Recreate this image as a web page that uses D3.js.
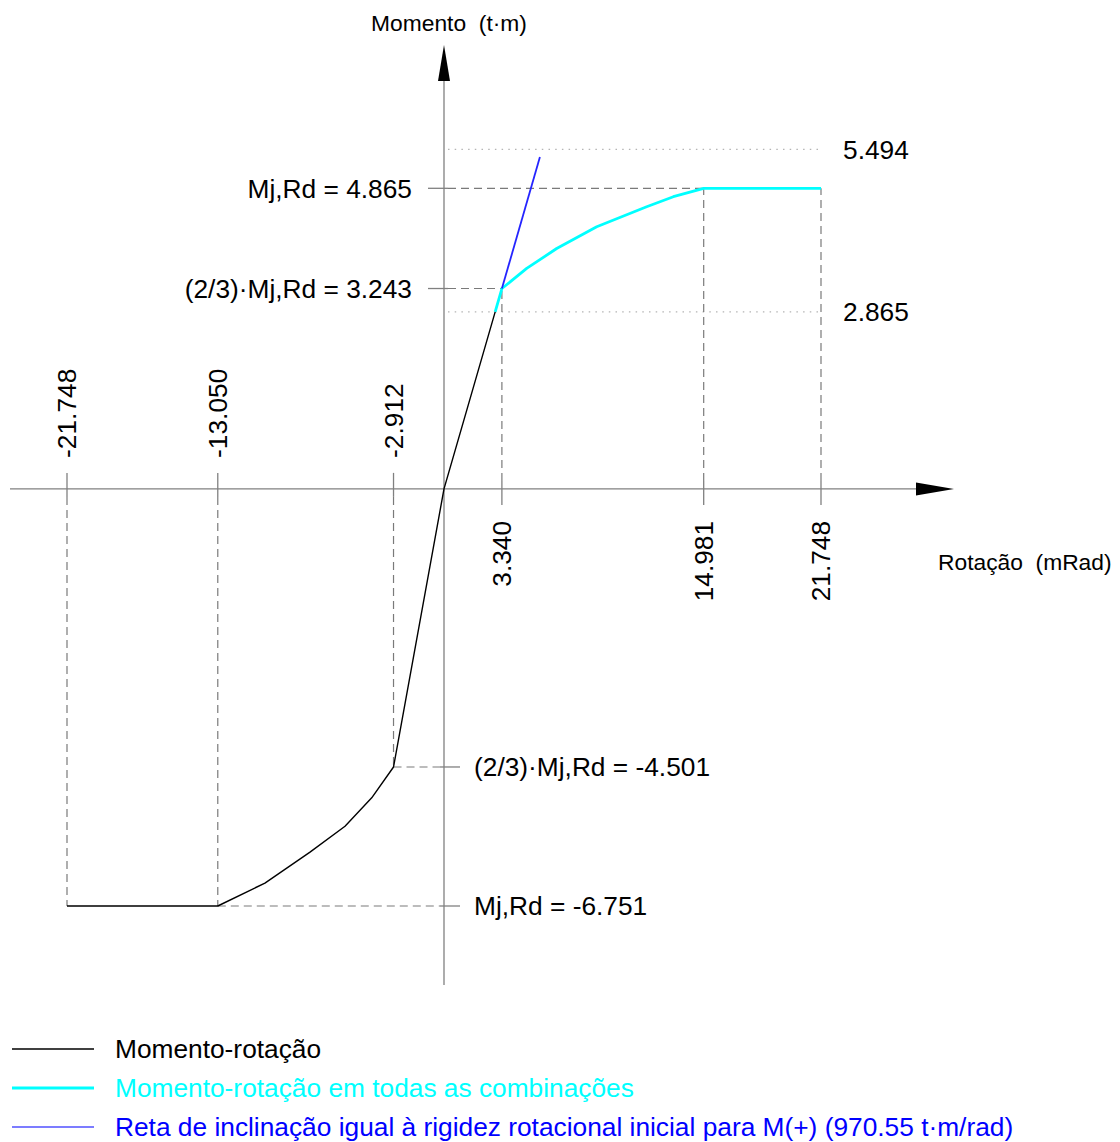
<!DOCTYPE html>
<html>
<head>
<meta charset="utf-8">
<script src="https://cdn.jsdelivr.net/npm/d3@7"></script>
<style>
  html, body { margin: 0; padding: 0; background: #fff; }
  svg { display: block; font-family: "Liberation Sans", Arial, sans-serif; }
</style>
</head>
<body>
<svg id="chart" width="1120" height="1142"></svg>
<script>
// Moment-rotation curve of the joint (rotation in mRad, moment in t·m)
const curveMain = [
  [-21.748, -6.751], [-13.050, -6.751], [-10.33, -6.38], [-7.73, -5.88],
  [-5.71, -5.46], [-4.17, -5.00], [-2.912, -4.501], [0, 0], [2.952, 2.865]
];
// Envelope for all load combinations
const curveAll = [
  [2.952, 2.865], [3.340, 3.243], [4.77, 3.568], [6.50, 3.89], [8.81, 4.243],
  [11.69, 4.567], [13.23, 4.729], [14.981, 4.865], [21.748, 4.865]
];
// Initial rotational stiffness for M(+), t·m/rad
const stiffness = 970.55;
const stiffLineRange = [3.340, 5.533];   // rotation range of the stiffness line (mRad)

// Marked rotations and the moment each one reaches on the curve
const xMarks = [-21.748, -13.050, -2.912, 3.340, 14.981, 21.748];
const xMarkMoments = [-6.751, -6.751, -4.501, 3.243, 4.865, 4.865];
const xMarkLabels = ["-21.748", "-13.050", "-2.912", "3.340", "14.981", "21.748"];

// Marked moments (dashed reference), with the rotation where each is reached
const yMarks = [4.865, 3.243, -4.501, -6.751];
const yMarkRotations = [21.748, 3.340, -2.912, -13.050];
const yMarkLabels = ["Mj,Rd = 4.865", "(2/3)·Mj,Rd = 3.243", "(2/3)·Mj,Rd = -4.501", "Mj,Rd = -6.751"];

// Additional dotted moment levels
const dotLevels = [5.494, 2.865];
const dotLabels = ["5.494", "2.865"];

const legendLabels = [
  "Momento-rotação",
  "Momento-rotação em todas as combinações",
  "Reta de inclinação igual à rigidez rotacional inicial para M(+) (970.55 t·m/rad)"
];
const legendColors = ["#000000", "#00ffff", "#2424ff"];

const svg = d3.select("#chart");
const x = d3.scaleLinear().domain([0, 21.748]).range([444, 821]);
const y = d3.scaleLinear().domain([-6.751, 4.865]).range([906, 188.3]);
const x0 = x(0), y0 = y(0);

const axisColor = "#808080";
const dashColor = "#7a7a7a";
const FS = 26.3;

// dotted levels
dotLevels.forEach((v, i) => {
  svg.append("line")
    .attr("x1", x0 + 4).attr("x2", x(21.748))
    .attr("y1", y(v)).attr("y2", y(v))
    .attr("stroke", "#b4b4b4").attr("stroke-width", 1.2)
    .attr("stroke-dasharray", "1.5,5.2");
  svg.append("text")
    .attr("x", 843).attr("y", y(v))
    .attr("dy", "0.35em")
    .attr("font-size", FS).attr("fill", "#000")
    .text(dotLabels[i]);
});

// vertical dashed references and ticks for marked rotations
xMarks.forEach((v, i) => {
  const px = x(v);
  const neg = v < 0;
  svg.append("line")
    .attr("x1", px).attr("x2", px)
    .attr("y1", neg ? y0 + 8 : y0 - 8)
    .attr("y2", y(xMarkMoments[i]))
    .attr("stroke", dashColor).attr("stroke-width", 1.2)
    .attr("stroke-dasharray", "8,5");
  svg.append("line")
    .attr("x1", px).attr("x2", px)
    .attr("y1", neg ? y0 - 16 : y0 - 8)
    .attr("y2", neg ? y0 + 8 : y0 + 16)
    .attr("stroke", axisColor).attr("stroke-width", 1.3);
  svg.append("text")
    .attr("transform", `translate(${px},${neg ? y0 - 31 : y0 + 32}) rotate(-90)`)
    .attr("text-anchor", neg ? "start" : "end")
    .attr("dy", "0.35em")
    .attr("font-size", FS).attr("fill", "#000")
    .text(xMarkLabels[i]);
});

// horizontal dashed references and ticks for marked moments
yMarks.forEach((v, i) => {
  const py = y(v);
  const neg = v < 0;
  svg.append("line")
    .attr("x1", neg ? x(yMarkRotations[i]) : x0 + 4)
    .attr("x2", neg ? x0 - 4 : x(yMarkRotations[i]))
    .attr("y1", py).attr("y2", py)
    .attr("stroke", dashColor).attr("stroke-width", 1.2)
    .attr("stroke-dasharray", "8,5");
  svg.append("line")
    .attr("x1", neg ? x0 - 4 : x0 - 16)
    .attr("x2", neg ? x0 + 16 : x0 + 4)
    .attr("y1", py).attr("y2", py)
    .attr("stroke", axisColor).attr("stroke-width", 1.3);
  svg.append("text")
    .attr("x", neg ? 474 : 412).attr("y", py)
    .attr("dy", "0.35em")
    .attr("text-anchor", neg ? "start" : "end")
    .attr("font-size", FS).attr("fill", "#000")
    .text(yMarkLabels[i]);
});

// axes
svg.append("line").attr("x1", 10).attr("x2", 918).attr("y1", y0).attr("y2", y0)
  .attr("stroke", axisColor).attr("stroke-width", 1.3);
svg.append("line").attr("x1", x0).attr("x2", x0).attr("y1", 80).attr("y2", 985)
  .attr("stroke", axisColor).attr("stroke-width", 1.3);
svg.append("path")
  .attr("d", `M${x0},45 L${x0 - 6},81 L${x0 + 6},81 Z`).attr("fill", "#000");
svg.append("path")
  .attr("d", `M954,${y0} L916,${y0 - 6.5} L916,${y0 + 6.5} Z`).attr("fill", "#000");

svg.append("text")
  .attr("x", 449).attr("y", 31)
  .attr("text-anchor", "middle")
  .attr("font-size", 22.8).attr("fill", "#000")
  .attr("xml:space", "preserve")
  .text("Momento  (t·m)");
svg.append("text")
  .attr("x", 938).attr("y", 570)
  .attr("font-size", 22.8).attr("fill", "#000")
  .attr("xml:space", "preserve")
  .text("Rotação  (mRad)");

// curves
const line = d3.line().x(d => x(d[0])).y(d => y(d[1]));

svg.append("path").datum(curveAll)
  .attr("d", line).attr("fill", "none")
  .attr("stroke", "#00ffff").attr("stroke-width", 2.8)
  .attr("stroke-linejoin", "round");

svg.append("path").datum(curveMain)
  .attr("d", line).attr("fill", "none")
  .attr("stroke", "#000").attr("stroke-width", 1.4)
  .attr("stroke-linejoin", "round");

// stiffness line: M = k·θ (k in t·m/rad, θ in mRad → divide by 1000)
const stiffLine = stiffLineRange.map(r => [r, stiffness * r / 1000]);
svg.append("path").datum(stiffLine)
  .attr("d", line).attr("fill", "none")
  .attr("stroke", "#2424ff").attr("stroke-width", 1.8);

// legend
const legendY = [1049, 1088, 1127];
const legendWidths = [1.4, 2.8, 1.6];
legendLabels.forEach((t, i) => {
  svg.append("line")
    .attr("x1", 12).attr("x2", 94)
    .attr("y1", legendY[i]).attr("y2", legendY[i])
    .attr("stroke", i === 2 ? "#5050ff" : legendColors[i])
    .attr("stroke-width", legendWidths[i]);
  svg.append("text")
    .attr("x", 115).attr("y", legendY[i])
    .attr("dy", "0.35em")
    .attr("font-size", FS).attr("fill", i === 2 ? "#0000ff" : legendColors[i])
    .text(t);
});
</script>
</body>
</html>
